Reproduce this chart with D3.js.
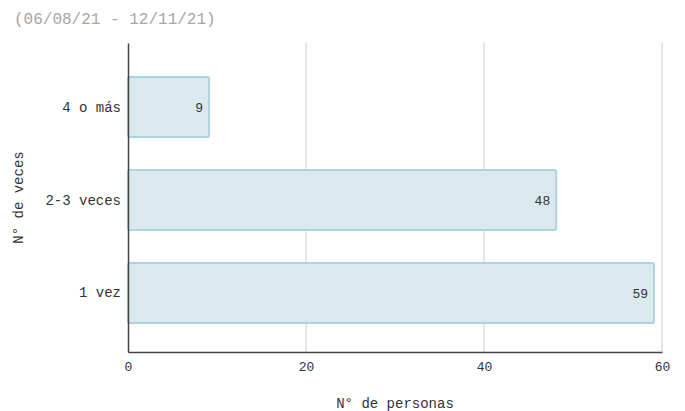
<!DOCTYPE html>
<html>
<head>
<meta charset="utf-8">
<script src="https://cdn.jsdelivr.net/npm/d3@7"></script>
<style>
  body { margin: 0; background: #fff; }
  text { font-family: "Liberation Mono", "Courier New", monospace; }
</style>
</head>
<body>
<div id="chart"></div>
<script>
const categorias = ["4 o más", "2-3 veces", "1 vez"];
const valores = [9, 48, 59];
const ticksX = [0, 20, 40, 60];

const margin = {top: 43, right: 23, bottom: 59, left: 128},
    width = 685 - margin.left - margin.right,
    height = 411 - margin.top - margin.bottom;

const svg = d3.select("#chart")
  .append("svg")
    .attr("width", 685)
    .attr("height", 411);

// titulo
svg.append("text")
  .attr("x", 14)
  .attr("y", 24)
  .attr("fill", "#a6a6a6")
  .style("font-size", "16px")
  .text("(06/08/21 - 12/11/21)");

const g = svg.append("g")
  .attr("transform", "translate(" + margin.left + "," + margin.top + ")");

const data = categorias.map((c, i) => ({cat: c, val: valores[i]}));

const x = d3.scaleLinear()
  .domain([0, 60])
  .range([0, width]);

const y = d3.scaleBand()
  .domain(categorias)
  .range([0, height])
  .paddingInner(0.355)
  .paddingOuter(0.34)
  .align(0.54);

// grid
g.selectAll(".grid")
  .data(ticksX.slice(1))
  .enter()
  .append("line")
    .attr("x1", d => x(d))
    .attr("x2", d => x(d))
    .attr("y1", 0)
    .attr("y2", height)
    .attr("stroke", "#ccc")
    .attr("stroke-width", 1);

// barras
g.selectAll(".bar")
  .data(data)
  .enter()
  .append("rect")
    .attr("x", x(0))
    .attr("y", d => y(d.cat))
    .attr("width", d => x(d.val) - x(0) + 1)
    .attr("height", y.bandwidth())
    .attr("rx", 2)
    .attr("fill", "#d7e8ed")
    .attr("fill-opacity", 0.95)
    .attr("stroke", "#aed3df")
    .attr("stroke-width", 2);

// valores
g.selectAll(".lbl")
  .data(data)
  .enter()
  .append("text")
    .attr("x", d => x(d.val) - 5)
    .attr("y", d => y(d.cat) + y.bandwidth() / 2)
    .attr("dy", "0.35em")
    .attr("text-anchor", "end")
    .attr("fill", "#333")
    .style("font-size", "13px")
    .text(d => d.val);

// eje x
const ax = g.append("g")
  .attr("transform", "translate(0," + height + ")")
  .call(d3.axisBottom(x).tickValues(ticksX).tickSize(0).tickPadding(10));
ax.select(".domain").attr("stroke", "#444").attr("stroke-width", 1.5);
ax.selectAll("text")
  .attr("fill", "#333")
  .style("font-size", "13px")
  .style("font-family", "Liberation Mono, monospace");

// eje y
const ay = g.append("g")
  .call(d3.axisLeft(y).tickSize(0).tickPadding(7));
ay.select(".domain").attr("stroke", "#444").attr("stroke-width", 1.5);
ay.selectAll("text")
  .attr("fill", "#333")
  .style("font-size", "14px")
  .style("font-family", "Liberation Mono, monospace");

// titulos de ejes
svg.append("text")
  .attr("x", margin.left + width / 2)
  .attr("y", 408)
  .attr("text-anchor", "middle")
  .attr("fill", "#333")
  .style("font-size", "14px")
  .text("N° de personas");

svg.append("text")
  .attr("transform", "translate(23," + (margin.top + height / 2) + ")rotate(-90)")
  .attr("text-anchor", "middle")
  .attr("fill", "#333")
  .style("font-size", "14px")
  .text("N° de veces");
</script>
</body>
</html>
